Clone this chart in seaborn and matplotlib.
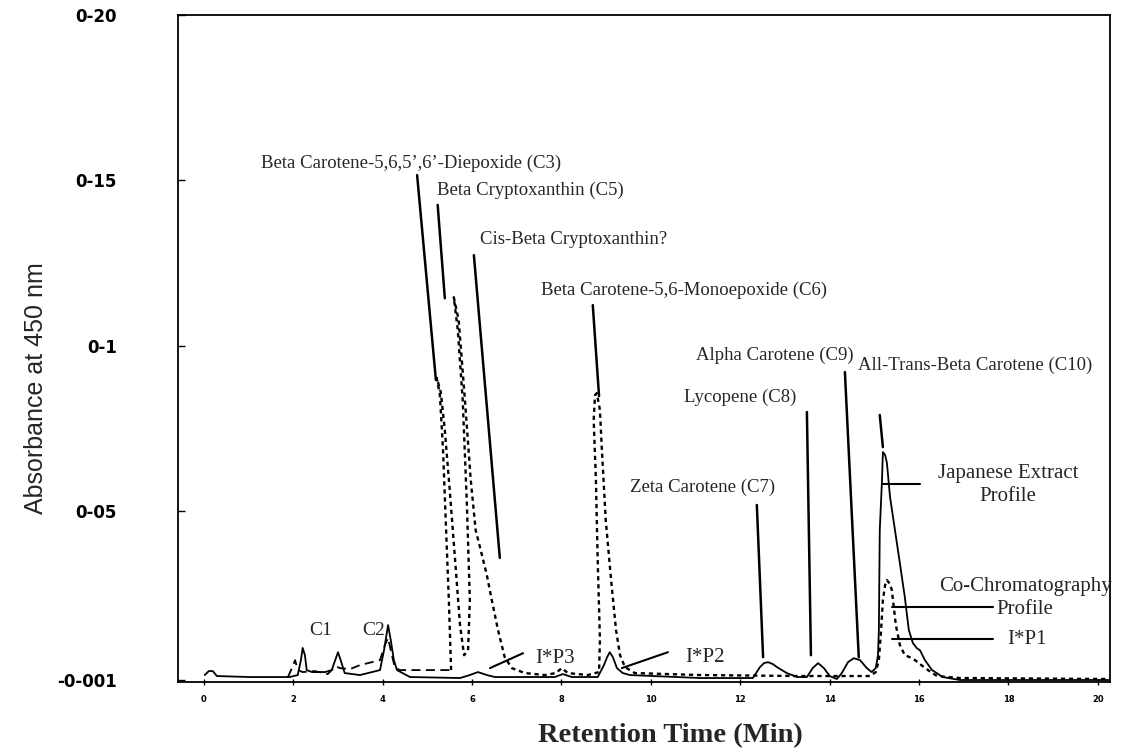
import matplotlib
matplotlib.use("Agg")
import matplotlib.pyplot as plt
import seaborn as sns
import pandas as pd

# Japanese extract profile (solid trace)
extract_time = [0.02, 0.11, 0.20, 0.29, 1.03, 1.92, 2.10, 2.17, 2.21, 2.26,
                2.30, 2.42, 2.71, 2.86, 2.93, 3.00, 3.06, 3.15, 3.49, 3.94,
                4.03, 4.12, 4.18, 4.25, 4.32, 4.61, 5.73, 5.95, 6.13, 6.33,
                6.51, 7.85, 8.03, 8.23, 8.81, 8.95, 9.02, 9.08, 9.15, 9.24,
                9.37, 9.53, 11.10, 12.28, 12.44, 12.53, 12.62, 12.73, 12.82, 13.04,
                13.27, 13.49, 13.62, 13.74, 13.87, 14.00, 14.16, 14.27, 14.41, 14.54,
                14.68, 14.83, 14.94, 15.03, 15.08, 15.10, 15.12, 15.17, 15.19, 15.24,
                15.28, 15.35, 15.46, 15.57, 15.68, 15.77, 15.86, 15.95, 16.02, 16.13,
                16.29, 16.53, 16.91, 20.27]
extract_abs = [0.0005, 0.0017, 0.0017, 0.0002, -0.0001, -0.0001, 0.0005, 0.0050, 0.0087, 0.0065,
               0.0020, 0.0014, 0.0014, 0.0020, 0.0047, 0.0074, 0.0050, 0.0011, 0.0005, 0.0020,
               0.0080, 0.0156, 0.0111, 0.0050, 0.0020, -0.0001, -0.0004, 0.0005, 0.0014, 0.0005,
               -0.0001, -0.0001, 0.0008, -0.0001, -0.0001, 0.0035, 0.0059, 0.0074, 0.0059, 0.0026,
               0.0011, 0.0005, -0.0004, -0.0004, 0.0029, 0.0041, 0.0044, 0.0038, 0.0029, 0.0011,
               -0.0001, -0.0001, 0.0026, 0.0041, 0.0026, 0.0002, -0.0007, 0.0011, 0.0044, 0.0056,
               0.0050, 0.0026, 0.0014, 0.0026, 0.0065, 0.0141, 0.0443, 0.0594, 0.0679, 0.0670,
               0.0646, 0.0543, 0.0443, 0.0343, 0.0241, 0.0141, 0.0102, 0.0086, 0.0080, 0.0050,
               0.0020, -0.0001, -0.0010, -0.0010]

# co-chromatography profile, early dashed stretch
cochrom_early_time = [1.88, 1.97, 2.04, 2.10, 2.21, 2.48, 2.77, 2.95, 3.04, 3.27,
                      3.49, 3.76, 3.94, 4.05, 4.12, 4.18, 4.27, 4.38, 4.94, 5.53]
cochrom_early_abs = [-0.0001, 0.0026, 0.0050, 0.0020, 0.0014, 0.0017, 0.0008, 0.0032, 0.0026, 0.0023,
                     0.0035, 0.0044, 0.0050, 0.0096, 0.0117, 0.0080, 0.0029, 0.0020, 0.0020, 0.0020]

# co-chromatography profile, dotted part (peaks lean like the scan)
cochrom_time = [5.53, 5.48, 5.41, 5.35, 5.28, 5.21, 5.30, 5.39, 5.50, 5.62,
                5.73, 5.82, 5.91, 5.95, 5.88, 5.79, 5.68, 5.59, 5.70, 5.84,
                5.97, 6.08, 6.22, 6.33, 6.44, 6.58, 6.73, 6.89, 7.18, 7.63,
                7.87, 8.01, 8.14, 8.59, 8.84, 8.86, 8.81, 8.77, 8.72, 8.75,
                8.79, 8.86, 8.90, 8.99, 9.11, 9.22, 9.31, 9.42, 9.64, 11.10,
                13.33, 14.90, 15.03, 15.10, 15.15, 15.19, 15.24, 15.28, 15.35, 15.39,
                15.48, 15.57, 15.68, 15.79, 15.91, 16.02, 16.20, 16.40, 16.91, 20.27]
cochrom_abs = [0.0020, 0.0232, 0.0473, 0.0685, 0.0851, 0.0903, 0.0860, 0.0745, 0.0564, 0.0352,
               0.0156, 0.0065, 0.0080, 0.0232, 0.0534, 0.0836, 0.1048, 0.1147, 0.1078, 0.0836,
               0.0594, 0.0443, 0.0368, 0.0307, 0.0232, 0.0141, 0.0059, 0.0026, 0.0011, 0.0005,
               0.0011, 0.0026, 0.0011, 0.0005, 0.0014, 0.0111, 0.0352, 0.0594, 0.0776, 0.0851,
               0.0857, 0.0806, 0.0694, 0.0473, 0.0292, 0.0141, 0.0065, 0.0029, 0.0011, 0.0005,
               0.0002, 0.0002, 0.0014, 0.0050, 0.0141, 0.0232, 0.0277, 0.0292, 0.0280, 0.0262,
               0.0156, 0.0096, 0.0065, 0.0059, 0.0050, 0.0038, 0.0020, 0.0002, -0.0004, -0.0007]

x_ticks = [0, 2, 4, 6, 8, 10, 12, 14, 16, 18, 20]
y_ticks = [0.20, 0.15, 0.1, 0.05, -0.001]
y_tick_labels = ["0-20", "0-15", "0-1", "0-05", "-0-001"]

# peak labels: text, text position, leader line start, leader line end
peak_labels = [
    ("Beta Carotene-5,6,5\u2019,6\u2019-Diepoxide (C3)", (4.64, 0.1553), (4.77, 0.1516), (5.19, 0.0897)),
    ("Beta Cryptoxanthin (C5)", (7.30, 0.1471), (5.23, 0.1426), (5.39, 0.1144)),
    ("Cis-Beta Cryptoxanthin?", (8.28, 0.1320), (6.04, 0.1274), (6.62, 0.0359)),
    ("Beta Carotene-5,6-Monoepoxide (C6)", (10.73, 0.1169), (8.70, 0.1123), (8.84, 0.0848)),
    ("Alpha Carotene (C9)", (12.77, 0.0972), (14.34, 0.0921), (14.65, 0.0059)),
    ("All-Trans-Beta Carotene (C10)", (17.25, 0.0942), (15.12, 0.0791), (15.19, 0.0694)),
    ("Lycopene (C8)", (11.99, 0.0845), (13.49, 0.0800), (13.58, 0.0065)),
    ("Zeta Carotene (C7)", (11.16, 0.0573), (12.37, 0.0519), (12.51, 0.0059)),
]
side_labels = [
    ("Japanese Extract\nProfile", (17.99, 0.0579), (15.19, 0.0582), (16.02, 0.0582)),
    ("Co-Chromatography\nProfile", (18.37, 0.0238), (15.39, 0.0210), (17.65, 0.0210)),
    ("I*P1", (18.41, 0.0111), (15.39, 0.0114), (17.65, 0.0114)),
    ("I*P3", (7.85, 0.0056), (6.40, 0.0026), (7.14, 0.0071)),
    ("I*P2", (11.21, 0.0059), (9.35, 0.0026), (10.38, 0.0074)),
]
small_labels = [("C1", (2.62, 0.0141)), ("C2", (3.79, 0.0141))]

extract = pd.DataFrame({"time": extract_time, "absorbance": extract_abs})
cochrom_early = pd.DataFrame({"time": cochrom_early_time, "absorbance": cochrom_early_abs})
cochrom = pd.DataFrame({"time": cochrom_time, "absorbance": cochrom_abs})

sns.set_theme(style="white")
plt.rcParams["font.family"] = ["Liberation Serif", "DejaVu Serif"]

fig = plt.figure(figsize=(11.43, 7.54), dpi=100)
ax = fig.add_axes([0.1557, 0.0955, 0.8154, 0.8846])

sns.lineplot(data=extract, x="time", y="absorbance", ax=ax, color="black",
             linewidth=1.3, sort=False, estimator=None)
sns.lineplot(data=cochrom_early, x="time", y="absorbance", ax=ax, color="black",
             linewidth=1.3, linestyle=(0, (5, 3)), sort=False, estimator=None)
sns.lineplot(data=cochrom, x="time", y="absorbance", ax=ax, color="black",
             linewidth=1.7, linestyle=(0, (1.8, 1.6)), sort=False, estimator=None)

ax.set_xlim(-0.58, 20.27)
ax.set_ylim(-0.0016, 0.20)

for side in ax.spines.values():
    side.set_visible(True)
    side.set_color("black")
    side.set_linewidth(1.3)

ax.set_xticks(x_ticks)
ax.set_xticklabels([str(t) for t in x_ticks], fontsize=6, fontweight="bold",
                   family="DejaVu Sans")
ax.set_yticks(y_ticks)
ax.set_yticklabels(y_tick_labels, fontsize=12, fontweight="bold", family="DejaVu Sans")
ax.tick_params(axis="x", bottom=True, direction="inout", length=5, width=1, pad=7,
               colors="black")
ax.tick_params(axis="y", left=True, direction="in", length=5, width=1, pad=44,
               colors="black")

ax.set_xlabel("Retention Time (Min)", fontsize=20.5, fontweight="bold")
ax.xaxis.set_label_coords(0.528, -0.062)
ax.set_ylabel("Absorbance at 450 nm", fontsize=18, family="Liberation Sans")
ax.yaxis.set_label_coords(-0.1395, 0.44)

for text, pos, start, end in peak_labels:
    ax.text(pos[0], pos[1], text, ha="center", va="center", fontsize=13.5)
    ax.plot([start[0], end[0]], [start[1], end[1]], color="black", linewidth=1.8)

for text, pos, start, end in side_labels:
    ax.text(pos[0], pos[1], text, ha="center", va="center", fontsize=15,
            linespacing=1.25)
    ax.plot([start[0], end[0]], [start[1], end[1]], color="black", linewidth=1.5)

for text, pos in small_labels:
    ax.text(pos[0], pos[1], text, ha="center", va="center", fontsize=14)

fig.savefig("out.png", dpi=100)
